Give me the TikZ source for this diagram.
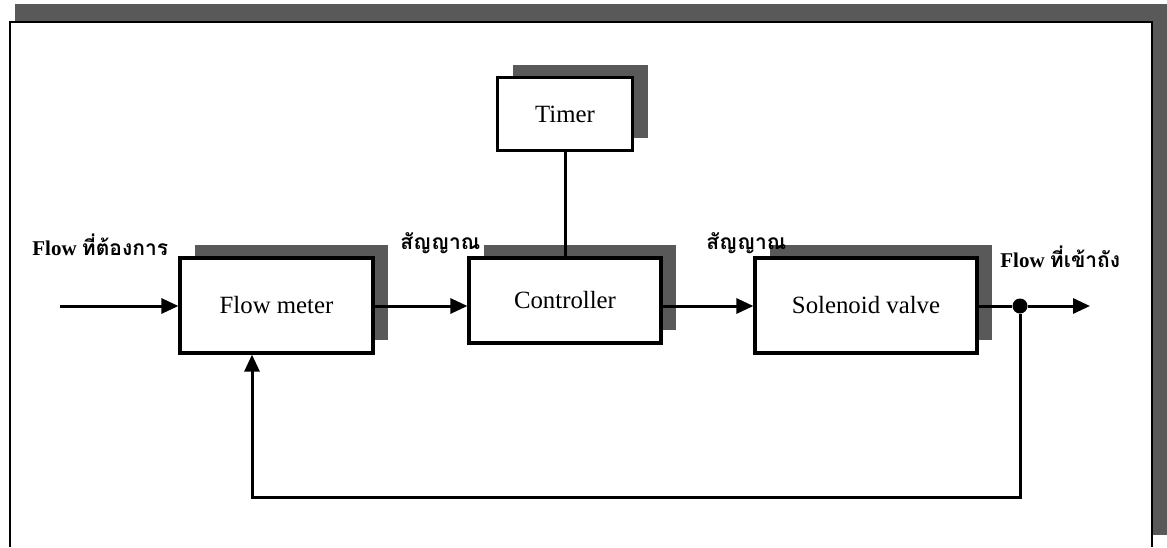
\documentclass[tikz,border=0pt]{standalone}
\usepackage{fontspec}
\setmainfont{Liberation Serif}
\newfontfamily\thaifont[Script=Thai]{Loma}
\usepackage{tikz}
\usetikzlibrary{positioning,arrows.meta,shadows}

\begin{document}
\begin{tikzpicture}[x=0.5pt, y=-0.5pt, >={Triangle[length=8.5pt,width=7.5pt]},
  blk/.style={draw, line width=1.6pt, fill=white, font=\fontsize{12.4}{14}\selectfont,
    drop shadow={shadow xshift=7.5pt, shadow yshift=6.5pt, fill=black!65, opacity=1}},
  lbl/.style={font=\fontsize{10.5}{12}\selectfont\bfseries, inner sep=0pt},
  flow/.style={line width=1.5pt}]
\useasboundingbox (0,0) rectangle (1167,547);
\fill[black!65] (15,4) rectangle (1167,21);
\fill[black!65] (1152,4) rectangle (1167,535);
\draw[line width=1pt] (10,547) -- (10,22) -- (1152,22) -- (1152,547);
\node[blk, minimum width=96.5pt, minimum height=47.5pt] (fm) at (276.5,305.5) {Flow meter};
\node[blk, minimum width=96pt, minimum height=42.5pt] (ctl) at (565,300.5) {Controller};
\node[blk, minimum width=111pt, minimum height=47.5pt] (sv) at (866,305.5) {Solenoid valve};
\node[blk, minimum width=67.5pt, minimum height=36.5pt] (tm) at (565,114) {Timer};
\node[circle, fill, inner sep=0pt, minimum size=7.5pt] (tap) at (1020,306) {};
\coordinate (in) at (60,306);
\coordinate (out) at (1090,306);
\coordinate (fb) at (252,497);
\node[lbl, anchor=west] (lin) at (32,245) {Flow {\thaifont\bfseries ที่ต้องการ}};
\node[lbl, anchor=west] (s1) at (400,243) {\thaifont\bfseries สัญญาณ};
\node[lbl, anchor=west] (s2) at (706,243) {\thaifont\bfseries สัญญาณ};
\node[lbl, anchor=west] (lout) at (1000,257) {Flow {\thaifont\bfseries ที่เข้าถัง}};
\draw[flow, ->] (in) -- (fm.west |- in);
\draw[flow, ->] (fm.east |- in) -- (ctl.west |- in);
\draw[flow, ->] (ctl.east |- in) -- (sv.west |- in);
\draw[flow] (sv.east |- in) -- (tap);
\draw[flow, ->] (tap) -- (out);
\draw[flow] (tm.south) -- (ctl.north);
\draw[flow, ->] (tap) |- (fb) -- (fb |- fm.south);
\end{tikzpicture}
\end{document}
